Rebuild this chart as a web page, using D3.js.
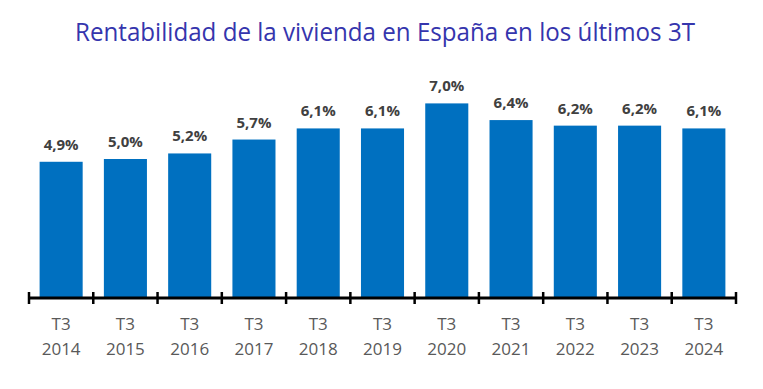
<!DOCTYPE html>
<html>
<head>
<meta charset="utf-8">
<script src="https://cdn.jsdelivr.net/npm/d3@7"></script>
<style>
  body { margin: 0; background: #fff; }
  svg { display: block; }
</style>
</head>
<body>
<script>
// data
var quarters = ["T3","T3","T3","T3","T3","T3","T3","T3","T3","T3","T3"];
var years = ["2014","2015","2016","2017","2018","2019","2020","2021","2022","2023","2024"];
var values = [4.9, 5.0, 5.2, 5.7, 6.1, 6.1, 7.0, 6.4, 6.2, 6.2, 6.1];
var title = "Rentabilidad de la vivienda en España en los últimos 3T";

var width = 763, height = 389;
var svg = d3.select("body").append("svg")
    .attr("width", width)
    .attr("height", height);

var x = d3.scaleBand()
    .domain(years)
    .range([29, 736])
    .paddingInner(0.33)
    .paddingOuter(0.165);

var y = d3.scaleLinear()
    .domain([0, 8])
    .range([298, 75.6]);

svg.append("text")
    .attr("x", 385)
    .attr("y", 41)
    .attr("text-anchor", "middle")
    .attr("textLength", 620)
    .attr("lengthAdjust", "spacingAndGlyphs")
    .style("font-family", "'Open Sans', sans-serif")
    .style("font-size", "25px")
    .style("fill", "#3535AD")
    .text(title);

var data = years.map(function(yr, i){
    return {year: yr, q: quarters[i], value: values[i]};
});

svg.selectAll(".bar")
    .data(data).enter()
    .append("rect")
    .attr("class", "bar")
    .attr("x", function(d){ return x(d.year); })
    .attr("y", function(d){ return y(d.value); })
    .attr("width", x.bandwidth())
    .attr("height", function(d){ return y(0) - y(d.value); })
    .attr("fill", "#0070C0");

svg.selectAll(".lbl")
    .data(data).enter()
    .append("text")
    .attr("class", "lbl")
    .attr("x", function(d){ return x(d.year) + x.bandwidth() / 2; })
    .attr("y", function(d){ return y(d.value) - 12; })
    .attr("text-anchor", "middle")
    .style("font-family", "'Open Sans', sans-serif")
    .style("font-weight", "bold")
    .style("font-size", "15px")
    .style("fill", "#404040")
    .text(function(d){ return d3.format(".1f")(d.value).replace(".", ",") + "%"; });

// axis line with tick marks at band boundaries
var step = x.step();
var bounds = d3.range(years.length + 1).map(function(i){ return 29 + i * step; });

svg.append("line")
    .attr("x1", 29).attr("x2", 736)
    .attr("y1", 298).attr("y2", 298)
    .attr("stroke", "#000")
    .attr("stroke-width", 3);

svg.selectAll(".tick")
    .data(bounds).enter()
    .append("line")
    .attr("class", "tick")
    .attr("x1", function(d){ return d; })
    .attr("x2", function(d){ return d; })
    .attr("y1", 292).attr("y2", 304)
    .attr("stroke", "#000")
    .attr("stroke-width", 2.5);

var cats = svg.selectAll(".cat")
    .data(data).enter()
    .append("text")
    .attr("class", "cat")
    .attr("text-anchor", "middle")
    .style("font-family", "'Open Sans', sans-serif")
    .style("font-size", "17px")
    .style("fill", "#595959");

cats.append("tspan")
    .attr("x", function(d){ return x(d.year) + x.bandwidth() / 2; })
    .attr("y", 330)
    .text(function(d){ return d.q; });
cats.append("tspan")
    .attr("x", function(d){ return x(d.year) + x.bandwidth() / 2; })
    .attr("y", 355)
    .text(function(d){ return d.year; });
</script>
</body>
</html>
